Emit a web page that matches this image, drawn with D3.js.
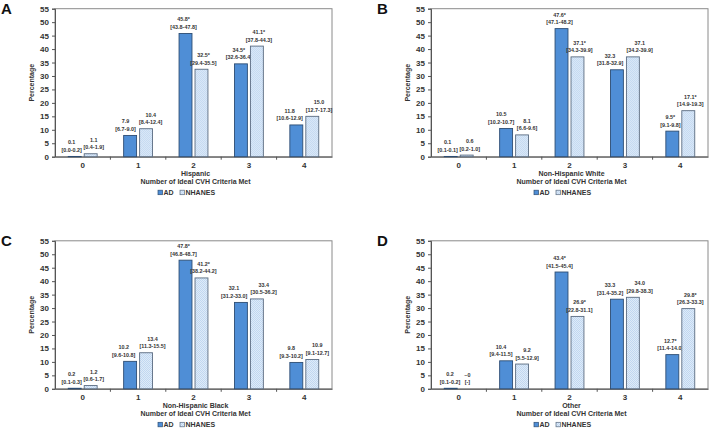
<!DOCTYPE html>
<html>
<head>
<meta charset="utf-8">
<script src="https://cdn.jsdelivr.net/npm/d3@7"></script>
<style>
  body { margin: 0; background: #fff; }
  svg { display: block; font-family: "Liberation Sans", Arial, sans-serif; }
</style>
</head>
<body>
<svg id="chart" width="709" height="430"></svg>
<script>
// categories and series
const categories = ["0", "1", "2", "3", "4"];
const series = ["AD", "NHANES"];
const yTicks = [0, 5, 10, 15, 20, 25, 30, 35, 40, 45, 50, 55];

const panelLetters = ["A", "B", "C", "D"];
const panelNames = ["Hispanic", "Non-Hispanic White", "Non-Hispanic Black", "Other"];

// A - Hispanic
const hispAD = [0.1, 7.9, 45.8, 34.5, 11.8];
const hispADtxt = ["0.1", "7.9", "45.8*", "34.5*", "11.8"];
const hispADci = ["[0.0-0.2]", "[6.7-9.0]", "[43.8-47.8]", "[32.6-36.4]", "[10.6-12.9]"];
const hispNH = [1.1, 10.4, 32.5, 41.1, 15.0];
const hispNHtxt = ["1.1", "10.4", "32.5*", "41.1*", "15.0"];
const hispNHci = ["[0.4-1.9]", "[8.4-12.4]", "[29.4-35.5]", "[37.8-44.3]", "[12.7-17.3]"];

// B - Non-Hispanic White
const whiteAD = [0.1, 10.5, 47.6, 32.3, 9.5];
const whiteADtxt = ["0.1", "10.5", "47.6*", "32.3", "9.5*"];
const whiteADci = ["[0.1-0.1]", "[10.2-10.7]", "[47.1-48.2]", "[31.8-32.9]", "[9.1-9.8]"];
const whiteNH = [0.6, 8.1, 37.1, 37.1, 17.1];
const whiteNHtxt = ["0.6", "8.1", "37.1*", "37.1", "17.1*"];
const whiteNHci = ["[0.2-1.0]", "[6.6-9.6]", "[34.3-39.9]", "[34.2-39.9]", "[14.9-19.3]"];

// C - Non-Hispanic Black
const blackAD = [0.2, 10.2, 47.8, 32.1, 9.8];
const blackADtxt = ["0.2", "10.2", "47.8*", "32.1", "9.8"];
const blackADci = ["[0.1-0.3]", "[9.6-10.8]", "[46.8-48.7]", "[31.2-33.0]", "[9.3-10.2]"];
const blackNH = [1.2, 13.4, 41.2, 33.4, 10.9];
const blackNHtxt = ["1.2", "13.4", "41.2*", "33.4", "10.9"];
const blackNHci = ["[0.6-1.7]", "[11.3-15.5]", "[38.2-44.2]", "[30.5-36.2]", "[9.1-12.7]"];

// D - Other
const otherAD = [0.2, 10.4, 43.4, 33.3, 12.7];
const otherADtxt = ["0.2", "10.4", "43.4*", "33.3", "12.7*"];
const otherADci = ["[0.1-0.2]", "[9.4-11.5]", "[41.5-45.4]", "[31.4-35.2]", "[11.4-14.0]"];
const otherNH = [0, 9.2, 26.9, 34.0, 29.8];
const otherNHtxt = ["~0", "9.2", "26.9*", "34.0", "29.8*"];
const otherNHci = ["[-]", "[5.5-12.9]", "[22.8-31.1]", "[29.8-38.3]", "[26.3-33.3]"];

const panelData = [
  [[hispAD, hispADtxt, hispADci], [hispNH, hispNHtxt, hispNHci]],
  [[whiteAD, whiteADtxt, whiteADci], [whiteNH, whiteNHtxt, whiteNHci]],
  [[blackAD, blackADtxt, blackADci], [blackNH, blackNHtxt, blackNHci]],
  [[otherAD, otherADtxt, otherADci], [otherNH, otherNHtxt, otherNHci]]
];

const svg = d3.select("#chart");

// checker pattern for NHANES bars
const defs = svg.append("defs");
const pat = defs.append("pattern")
  .attr("id", "checks")
  .attr("patternUnits", "userSpaceOnUse")
  .attr("width", 2).attr("height", 2);
pat.append("rect").attr("width", 2).attr("height", 2).attr("fill", "#e8f1fb");
pat.append("rect").attr("width", 1).attr("height", 1).attr("fill", "#b7d1ee");
pat.append("rect").attr("x", 1).attr("y", 1).attr("width", 1).attr("height", 1).attr("fill", "#b7d1ee");

const fills = ["#4f8ed6", "url(#checks)"];
const strokes = ["#2d4d73", "#5a6b80"];

const plotW = 277, plotH = 148;
const origins = [[55, 8.7], [431, 8.7], [55, 240.8], [431, 240.8]];

const x = d3.scaleBand().domain(categories).range([0, plotW]).padding(0);
const xSub = d3.scaleBand().domain(series).range([0, x.bandwidth()])
  .paddingInner(0.19).paddingOuter(0.83);
const y = d3.scaleLinear().domain([0, 55]).range([plotH, 0]);

const barMid = (i, key) => x(categories[i]) + xSub(key) + xSub.bandwidth() / 2;

panelData.forEach((pd, p) => {
  const [ox, oy] = origins[p];
  const g = svg.append("g").attr("transform", `translate(${ox},${oy})`);

  // frame (top and right)
  g.append("rect")
    .attr("x", 0).attr("y", 0).attr("width", plotW).attr("height", plotH)
    .attr("fill", "none").attr("stroke", "#8a8a8a").attr("stroke-width", 1);

  // y axis
  const yAx = g.append("g").call(d3.axisLeft(y).tickValues(yTicks).tickSize(3).tickPadding(3));
  yAx.select(".domain").attr("stroke", "#555");
  yAx.selectAll(".tick line").attr("stroke", "#555");
  yAx.selectAll("text").attr("font-size", 8).attr("font-weight", "bold").attr("fill", "#333");

  // x axis with ticks at category boundaries
  const xAx = g.append("g").attr("transform", `translate(0,${plotH})`)
    .call(d3.axisBottom(x).tickSize(0).tickPadding(6));
  xAx.select(".domain").attr("stroke", "#555");
  xAx.selectAll("text").attr("font-size", 8).attr("font-weight", "bold").attr("fill", "#333");
  g.selectAll("line.xb")
    .data(categories.slice(1))
    .enter().append("line")
    .attr("class", "xb")
    .attr("x1", d => x(d)).attr("x2", d => x(d))
    .attr("y1", plotH).attr("y2", plotH + 3)
    .attr("stroke", "#555");

  // bars and labels
  const labels = [];
  pd.forEach((s, si) => {
    const [vals, txt, ci] = s;
    const key = series[si];
    const grp = g.append("g");
    grp.selectAll("rect")
      .data(vals)
      .enter().append("rect")
      .attr("x", (d, i) => x(categories[i]) + xSub(key))
      .attr("y", d => y(d))
      .attr("width", xSub.bandwidth())
      .attr("height", d => plotH - y(d))
      .attr("fill", fills[si])
      .attr("stroke", d => d > 0 ? strokes[si] : "none")
      .attr("stroke-width", 0.9);

    const lab = grp.selectAll("text")
      .data(vals)
      .enter().append("text")
      .attr("text-anchor", "middle")
      .attr("font-size", 5.4)
      .attr("font-weight", "bold")
      .attr("fill", "#333");
    lab.append("tspan")
      .attr("class", "v")
      .attr("y", d => y(d) - 12)
      .text((d, i) => txt[i]);
    lab.append("tspan")
      .attr("class", "c")
      .attr("y", d => y(d) - 4.5)
      .text((d, i) => ci[i]);
    labels.push(lab);
  });

  // spread the two labels of a category apart when they would collide
  categories.forEach((c, i) => {
    const tA = labels[0].filter((d, j) => j === i);
    const tN = labels[1].filter((d, j) => j === i);
    const wA = tA.node().getBBox().width;
    const wN = tN.node().getBBox().width;
    const yA = y(pd[0][0][i]), yN = y(pd[1][0][i]);
    const mA = barMid(i, "AD"), mN = barMid(i, "NHANES");
    let offA = -2, offN = 2;
    if (Math.abs(yA - yN) < 16) {
      const need = (wA + wN) / 2 + 0.5;
      const gap = mN - mA;
      if (need > gap) {
        offA = -(need - gap) / 2;
        offN = (need - gap) / 2;
      }
    }
    tA.selectAll("tspan").attr("x", mA + offA);
    tN.selectAll("tspan").attr("x", mN + offN);
  });

  // y title
  g.append("text")
    .attr("transform", `translate(-21,${plotH / 2}) rotate(-90)`)
    .attr("text-anchor", "middle")
    .attr("font-size", 7).attr("font-weight", "bold").attr("fill", "#333")
    .text("Percentage");

  // subtitle and x title
  const cx = plotW / 2 + 2;
  g.append("text")
    .attr("x", cx).attr("y", plotH + 19)
    .attr("text-anchor", "middle")
    .attr("font-size", 7).attr("font-weight", "bold").attr("fill", "#333")
    .text(panelNames[p]);
  g.append("text")
    .attr("x", cx).attr("y", plotH + 27.5)
    .attr("text-anchor", "middle")
    .attr("font-size", 7).attr("font-weight", "bold").attr("fill", "#333")
    .text("Number of Ideal CVH Criteria Met");

  // legend
  const leg = g.append("g").attr("transform", `translate(${103},${plotH + 36})`);
  const legX = [0, 22];
  series.forEach((s, si) => {
    leg.append("rect")
      .attr("x", legX[si]).attr("y", -2.5)
      .attr("width", 4.5).attr("height", 4.5)
      .attr("fill", fills[si]).attr("stroke", strokes[si]).attr("stroke-width", 0.7);
    leg.append("text")
      .attr("x", legX[si] + 5.5).attr("y", 2.5)
      .attr("font-size", 7).attr("font-weight", "bold").attr("fill", "#333")
      .text(s);
  });

  // panel letter
  svg.append("text")
    .attr("x", ox - 54).attr("y", oy + 5)
    .attr("font-size", 15).attr("font-weight", "bold").attr("fill", "#111")
    .text(panelLetters[p]);
});
</script>
</body>
</html>
